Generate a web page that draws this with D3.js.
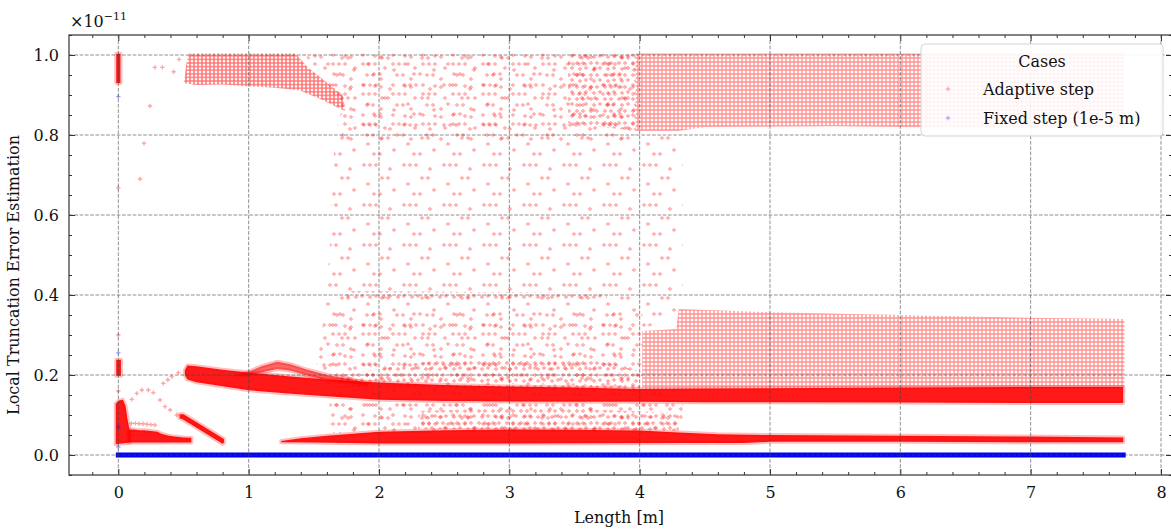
<!DOCTYPE html>
<html>
<head>
<meta charset="utf-8">
<script src="https://cdn.jsdelivr.net/npm/d3@7"></script>
<style>
  body { margin: 0; background: #fff; }
  svg text { font-family: "DejaVu Serif", serif; fill: #111; }
</style>
</head>
<body>
<svg width="1171" height="530"></svg>
<script>
// tick labels
var xTicks = [0, 1, 2, 3, 4, 5, 6, 7, 8];
var yTicks = [0.0, 0.2, 0.4, 0.6, 0.8, 1.0];

// ---- Adaptive step: outlines of the point clouds (x in m, y in 1e-11) ----
// solid (saturated) clouds
var colTop   = [[-0.016,0.93],[-0.016,1.003],[0.016,1.003],[0.016,0.93]];
var colMid   = [[-0.016,0.198],[-0.016,0.238],[0.02,0.238],[0.02,0.198]];
var spike    = [[-0.02,0.027],[-0.02,0.128],[0.005,0.136],[0.035,0.138],[0.055,0.123],[0.07,0.09],[0.085,0.065],[0.09,0.031]];
var sawtooth = [[0.08,0.031],[0.08,0.063],[0.12,0.064],[0.16,0.062],[0.2,0.062],[0.25,0.06],[0.3,0.058],[0.33,0.053],
                [0.38,0.049],[0.43,0.046],[0.5,0.044],[0.56,0.043],[0.56,0.031]];
var diagonal = [[0.47,0.102],[0.5,0.102],[0.81,0.04],[0.812,0.031],[0.8,0.028],[0.5,0.088],[0.47,0.092]];
var mainBand = [[0.51,0.212],[0.53,0.224],[0.6,0.222],[0.8,0.213],[1.0,0.206],[1.3,0.197],[1.6,0.189],[2.0,0.181],
                [2.5,0.175],[3.0,0.171],[3.5,0.169],[4.0,0.165],[4.5,0.166],[5.0,0.167],[6.0,0.169],[7.0,0.17],[7.71,0.17],
                [7.71,0.13],[7.0,0.13],[6.0,0.131],[5.0,0.132],[4.5,0.132],[4.0,0.133],[3.5,0.133],[3.0,0.134],
                [2.5,0.135],[2.0,0.138],[1.6,0.147],[1.3,0.154],[1.0,0.162],[0.8,0.172],[0.6,0.182],[0.53,0.189],[0.51,0.2]];
var hump     = [[0.9,0.198],[1.0,0.208],[1.1,0.222],[1.22,0.233],[1.32,0.227],[1.45,0.213],[1.6,0.2],[1.8,0.188],[1.9,0.18],
                [1.9,0.174],[1.6,0.187],[1.45,0.199],[1.32,0.211],[1.22,0.215],[1.1,0.207],[1.0,0.199]];
var lowBand  = [[1.25,0.035],[1.4,0.042],[1.6,0.048],[1.8,0.053],[2.0,0.058],[2.5,0.062],[3.0,0.064],[3.5,0.063],[4.0,0.061],
                [4.3,0.056],[4.6,0.052],[5.0,0.05],[6.0,0.048],[7.0,0.046],[7.71,0.044],
                [7.71,0.032],[7.0,0.032],[6.0,0.033],[5.0,0.033],[4.8,0.03],[4.3,0.03],[3.0,0.029],[2.0,0.029],[1.5,0.031],[1.25,0.032]];

// lattice-like clouds
var upperLeft  = [[0.505,0.93],[0.52,0.975],[0.54,1.004],[1.36,1.004],[1.45,0.97],[1.72,0.9],[1.74,0.86],[1.55,0.89],
                  [1.39,0.912],[1.2,0.918],[1.0,0.922],[0.8,0.926],[0.6,0.925]];
var upperRight = [[3.97,1.004],[7.72,1.004],[7.72,0.815],[6.5,0.818],[5.5,0.822],[4.5,0.82],[4.3,0.81],[3.97,0.81]];
var lowerRight = [[4.02,0.165],[4.02,0.31],[4.28,0.315],[4.3,0.365],[5.0,0.357],[6.0,0.35],[7.0,0.343],[7.72,0.34],[7.72,0.165]];

// thin scatter between 1.5 m and 4.3 m
var midCloud   = [[1.62,0.055],[1.62,0.13],[1.48,0.19],[1.56,0.3],[1.62,0.5],[1.66,0.8],[1.72,0.87],[1.55,0.95],[1.42,1.004],
                  [3.97,1.004],[3.97,0.81],[4.33,0.81],[4.33,0.37],[4.02,0.31],[4.02,0.165],[4.33,0.165],[4.33,0.06]];
var fairBits   = [
  [[1.72,0.87],[1.55,0.95],[1.42,1.004],[3.97,1.004],[3.97,0.78],[1.7,0.78]],
  [[1.5,0.19],[1.56,0.3],[1.58,0.36],[4.02,0.36],[4.02,0.17]],
  [[1.62,0.06],[1.62,0.13],[4.33,0.13],[4.33,0.06]]
];
var denserBits = [
  [[3.45,1.004],[3.97,1.004],[3.97,0.81],[3.45,0.83]],
  [[1.75,0.39],[1.75,0.41],[3.75,0.405],[3.75,0.39]],
  [[1.7,0.17],[1.7,0.2],[2.5,0.24],[3.6,0.24],[4.0,0.21],[4.0,0.165]],
  [[2.3,0.065],[2.3,0.11],[3.2,0.12],[4.3,0.105],[4.3,0.06]]
];

// single adaptive points
var adaptiveX = [0.103,0.141,0.18,0.23,0.269,0.32,0.358,0.397,0.448,0.345,0.38,0.41,0.46,
                 0.1,0.13,0.16,0.19,0.22,0.25,0.28,
                 0.167,0.197,0.243,0.28,0.338,0.424,0.466,0,0,0];
var adaptiveY = [0.139,0.154,0.1625,0.1625,0.156,0.1375,0.121,0.1125,0.1,0.179,0.188,0.196,0.206,
                 0.079,0.079,0.078,0.078,0.077,0.076,0.075,
                 0.69,0.779,0.8725,0.969,0.969,0.958,0.989,0.668,0.3,0.16];

// ---- Fixed step (1e-5 m) ----
var fixedX = [0, 7.71];
var fixedY = [0, 0];
var fixedOutX = [0, 0, 0, 0];
var fixedOutY = [0.896, 0.256, 0.07, 0.02];

var svg = d3.select("svg"),
    pLeft = 69, pRight = 1172, pTop = 35, pBottom = 475;

var x = d3.scaleLinear().domain([-0.3785, 8.0845]).range([pLeft, pRight]),
    y = d3.scaleLinear().domain([-0.05, 1.05]).range([pBottom, pTop]);

var defs = svg.append("defs");

defs.append("clipPath")
    .attr("id", "clip")
  .append("rect")
    .attr("x", pLeft).attr("y", pTop)
    .attr("width", pRight - pLeft).attr("height", pBottom - pTop);

// plus-shaped markers as path string
function plus(pts, r) {
  return pts.map(function(p) {
    return "M" + (p[0] - r) + "," + p[1] + "H" + (p[0] + r) + "M" + p[0] + "," + (p[1] - r) + "V" + (p[1] + r);
  }).join("");
}

// textures standing in for many overlapping markers
function texture(id, w, h, pts, op, sw) {
  var p = defs.append("pattern")
      .attr("id", id)
      .attr("patternUnits", "userSpaceOnUse")
      .attr("width", w).attr("height", h);
  p.append("path")
      .attr("d", plus(pts, 2.1))
      .attr("stroke", "red")
      .attr("stroke-opacity", op)
      .attr("stroke-width", sw)
      .attr("fill", "none");
}
texture("latDense", 4, 3.6, [[2, 1.8]], 0.55, 1.5);
texture("lat", 4, 4, [[2, 2]], 0.42, 1.4);
texture("med", 14, 12, [[3, 3], [9, 3], [6, 9], [12, 8]], 0.34, 1.4);
texture("fair", 30, 30, [[3, 4], [9, 4], [15, 4], [25, 8], [7, 15], [13, 15], [21, 19], [3, 25], [15, 26], [21, 27]], 0.32, 1.4);
texture("sparse", 40, 40, [[4, 5], [10, 5], [16, 5], [30, 9], [22, 18], [28, 18], [8, 24], [34, 30], [14, 34], [20, 34]], 0.32, 1.4);

var line = d3.line()
    .x(function(d) { return x(d[0]); })
    .y(function(d) { return y(d[1]); });

var plot = svg.append("g").attr("clip-path", "url(#clip)");

function cloud(poly, fill, op, edge) {
  plot.append("path")
      .attr("d", line(poly) + "Z")
      .attr("fill", fill)
      .attr("fill-opacity", op)
      .attr("stroke", edge ? "red" : "none")
      .attr("stroke-opacity", 0.25)
      .attr("stroke-width", edge ? 4 : 0)
      .attr("stroke-linejoin", "round");
}

cloud(midCloud, "url(#sparse)", 1, false);
fairBits.forEach(function(p) { cloud(p, "url(#fair)", 1, false); });
denserBits.forEach(function(p) { cloud(p, "url(#med)", 1, false); });
cloud(upperLeft, "url(#latDense)", 1, false);
cloud(upperRight, "url(#lat)", 1, false);
cloud(lowerRight, "url(#lat)", 1, false);

cloud(hump, "red", 0.6, true);
[colTop, colMid, spike, sawtooth, diagonal, mainBand, lowBand].forEach(function(p) {
  cloud(p, "red", 0.9, true);
});

// single adaptive points
plot.append("g")
  .selectAll("path")
  .data(adaptiveX.map(function(v, i) { return [v, adaptiveY[i]]; }))
  .enter().append("path")
    .attr("d", function(d) { return plus([[x(d[0]), y(d[1])]], 2.2); })
    .attr("stroke", "red")
    .attr("stroke-opacity", 0.35)
    .attr("stroke-width", 1.4);

// fixed step series
plot.append("path")
    .attr("d", line(fixedX.map(function(v, i) { return [v, fixedY[i]]; })))
    .attr("stroke", "blue")
    .attr("stroke-width", 5)
    .attr("stroke-linecap", "square")
    .attr("fill", "none");

plot.append("g")
  .selectAll("path")
  .data(fixedOutX.map(function(v, i) { return [v, fixedOutY[i]]; }))
  .enter().append("path")
    .attr("d", function(d) { return plus([[x(d[0]), y(d[1])]], 2.2); })
    .attr("stroke", "blue")
    .attr("stroke-opacity", 0.35)
    .attr("stroke-width", 1.4);

// grid lines
var grid = svg.append("g").attr("class", "grid");
grid.selectAll(".gx").data(xTicks).enter().append("line")
    .attr("x1", function(d) { return x(d); }).attr("x2", function(d) { return x(d); })
    .attr("y1", pTop).attr("y2", pBottom);
grid.selectAll(".gy").data(yTicks).enter().append("line")
    .attr("y1", function(d) { return y(d); }).attr("y2", function(d) { return y(d); })
    .attr("x1", pLeft).attr("x2", pRight);
grid.selectAll("line")
    .attr("stroke", "#444")
    .attr("stroke-opacity", 0.75)
    .attr("stroke-width", 0.8)
    .attr("stroke-dasharray", "3.7,1.6");

// axes, ticks pointing inward on all four sides
var xMinor = d3.range(-1, 41).map(function(i) { return i / 5; }).filter(function(v) { return v % 1 !== 0; });
var yMinor = d3.range(-1, 22).map(function(i) { return i / 20; }).filter(function(v) { return Math.round(v * 20) % 4 !== 0; });

function axis(gen, pos, scale, ticks, minor, pad, fmt) {
  var g = svg.append("g").attr("transform", pos);
  g.call(gen(scale).tickValues(ticks).tickSizeInner(-6).tickSizeOuter(0)
      .tickPadding(pad)
      .tickFormat(fmt || ""));
  g.append("g").call(gen(scale).tickValues(minor).tickSizeInner(-3).tickSizeOuter(0).tickFormat(""));
  g.selectAll(".domain").remove();
  g.selectAll("line").attr("stroke", "#333").attr("stroke-width", 1);
  g.selectAll("text").attr("font-family", "DejaVu Serif").attr("font-size", 16).attr("fill", "#111");
}
axis(d3.axisBottom, "translate(0," + pBottom + ")", x, xTicks, xMinor, 12, d3.format("d"));
axis(d3.axisTop, "translate(0," + pTop + ")", x, xTicks, xMinor, 0, null);
axis(d3.axisLeft, "translate(" + pLeft + ",0)", y, yTicks, yMinor, 10, d3.format(".1f"));
axis(d3.axisRight, "translate(" + pRight + ",0)", y, yTicks, yMinor, 0, null);

svg.append("rect")
    .attr("x", pLeft).attr("y", pTop)
    .attr("width", pRight - pLeft).attr("height", pBottom - pTop)
    .attr("fill", "none")
    .attr("stroke", "#333")
    .attr("stroke-width", 1.2);

// labels
svg.append("text")
    .attr("x", 619).attr("y", 523)
    .attr("text-anchor", "middle")
    .attr("font-size", 16)
    .text("Length [m]");

svg.append("text")
    .attr("transform", "translate(18.5,275) rotate(-90)")
    .attr("text-anchor", "middle")
    .attr("font-size", 16)
    .text("Local Truncation Error Estimation");

var off = svg.append("text")
    .attr("x", 70).attr("y", 27)
    .attr("font-size", 16);
off.append("tspan").text("\u00d710");
off.append("tspan").attr("dy", -7).attr("font-size", 11).text("\u221211");

// legend
var leg = svg.append("g");
leg.append("rect")
    .attr("x", 921).attr("y", 44)
    .attr("width", 242).attr("height", 92)
    .attr("rx", 4)
    .attr("fill", "white")
    .attr("fill-opacity", 0.9)
    .attr("stroke", "#d4d4d4")
    .attr("stroke-width", 1);
leg.append("text")
    .attr("x", 1042).attr("y", 67)
    .attr("text-anchor", "middle")
    .attr("font-size", 16)
    .text("Cases");
var entries = [["Adaptive step", "red", 89], ["Fixed step (1e-5 m)", "blue", 118]];
entries.forEach(function(e) {
  leg.append("path")
      .attr("d", plus([[948, e[2]]], 2.2))
      .attr("stroke", e[1])
      .attr("stroke-opacity", 0.3)
      .attr("stroke-width", 1.4);
  leg.append("text")
      .attr("x", 983).attr("y", e[2] + 6)
      .attr("font-size", 16)
      .text(e[0]);
});
</script>
</body>
</html>
